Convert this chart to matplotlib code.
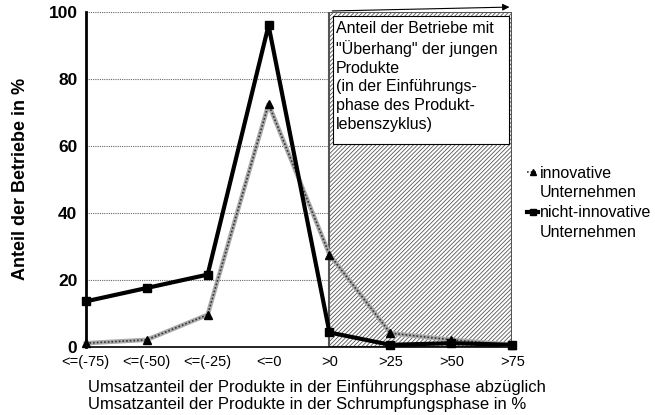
import matplotlib.pyplot as plt
from matplotlib.patches import Rectangle
from matplotlib.lines import Line2D

plt.rcParams['font.family'] = ['Liberation Sans', 'DejaVu Sans']
plt.rcParams['hatch.linewidth'] = 0.6

# Kategorien und Werte (in %)
kategorien = ['<=(-75)', '<=(-50)', '<=(-25)', '<=0', '>0', '>25', '>50', '>75']
innovativ = [1, 2, 9.5, 72.5, 27.5, 4, 2, 0.5]
nicht_innovativ = [13.5, 17.5, 21.5, 96, 4.2, 0.5, 1, 0.5]
y_ticks = [0, 20, 40, 60, 80, 100]

fig = plt.figure(figsize=(6.55, 4.15), dpi=100)
ax = fig.add_axes([0.131, 0.165, 0.651, 0.806])
x = list(range(len(kategorien)))

# schraffierter Bereich ab ">0"
ax.add_patch(Rectangle((4, 0), 3, 100, facecolor='white', edgecolor='#555555',
                       hatch='////////', lw=1.5, zorder=1))
ax.add_patch(Rectangle((4.06, 60.5), 2.88, 38.3, facecolor='white',
                       edgecolor='black', lw=0.8, zorder=2))
ax.text(4.1, 97.3, 'Anteil der Betriebe mit\n"Überhang" der jungen\nProdukte\n'
        '(in der Einführungs-\nphase des Produkt-\nlebenszyklus)',
        fontsize=11.5, va='top', ha='left', linespacing=1.3, zorder=3)
ax.annotate('', xy=(7.0, 101.5), xytext=(4, 100.3),
            arrowprops=dict(arrowstyle='-|>', color='black', lw=0.8),
            annotation_clip=False, zorder=3)

for yt in y_ticks[1:]:
    ax.axhline(yt, color='#666666', lw=0.8, ls=(0, (1, 1)), zorder=0.5)

ax.plot(x, innovativ, color='#aaaaaa', lw=3.2, zorder=4, clip_on=False)
l1, = ax.plot(x, innovativ, color='#333333', lw=1.2, ls=(0, (1, 1.2)), marker='^',
              ms=6, mfc='black', mec='black', zorder=5, clip_on=False)
l2, = ax.plot(x, nicht_innovativ, color='black', lw=3, marker='s', ms=6,
              zorder=6, clip_on=False)

ax.set_xlim(0, 7)
ax.set_ylim(0, 100)
ax.set_yticks(y_ticks)
ax.set_yticklabels([str(v) for v in y_ticks], fontsize=12.5, fontweight='bold')
ax.set_xticks(x)
ax.set_xticklabels(kategorien, fontsize=10.5)
ax.tick_params(axis='x', length=0, pad=6)
ax.tick_params(axis='y', length=0, pad=6)
for s in ['top', 'right']:
    ax.spines[s].set_visible(False)
ax.spines['left'].set_linewidth(2)
ax.spines['bottom'].set_linewidth(1.2)

ax.set_ylabel('Anteil der Betriebe in %', fontsize=13, fontweight='bold', labelpad=14)
fig.text(0.134, 0.046, 'Umsatzanteil der Produkte in der Einführungsphase abzüglich\n'
         'Umsatzanteil der Produkte in der Schrumpfungsphase in %',
         fontsize=12, ha='left', va='center', linespacing=1.1)

# Legende: Marker nur an der ersten Zeile
leer = Line2D([], [], linestyle='none')
leg = ax.legend([l1, leer, l2, leer],
                ['innovative', 'Unternehmen', 'nicht-innovative', 'Unternehmen'],
                loc='upper left', bbox_to_anchor=(1.02, 0.56), frameon=False,
                fontsize=11.5, handlelength=0.7, handletextpad=0.1, labelspacing=0.3,
                markerscale=0.8, borderaxespad=0)

fig.savefig('out.png', dpi=100)
